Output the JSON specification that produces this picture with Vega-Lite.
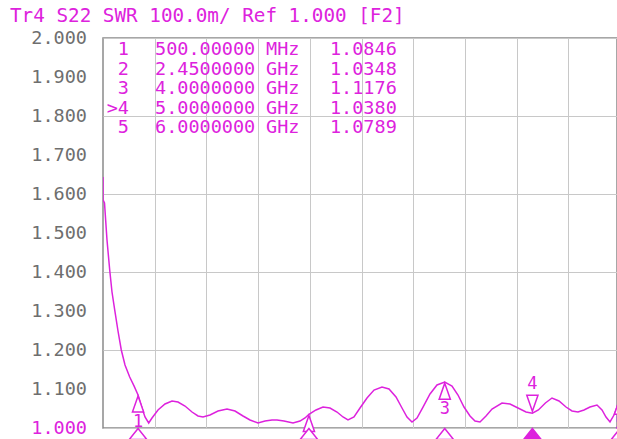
{
  "$schema": "https://vega.github.io/schema/vega-lite/v6.json",
  "width": 514,
  "height": 390,
  "autosize": {"type": "none"},
  "padding": {"left": 103, "top": 38, "right": 0, "bottom": 11},
  "background": "white",
  "config": {
    "view": {"stroke": "#8a8a8a", "strokeWidth": 1.5},
    "font": "DejaVu Sans Mono"
  },
  "title": {
    "text": "Tr4 S22 SWR 100.0m/ Ref 1.000 [F2]",
    "anchor": "start",
    "frame": "group",
    "dx": -93,
    "offset": 3,
    "font": "DejaVu Sans Mono",
    "fontSize": 19.3,
    "fontWeight": "normal",
    "color": "#dd22dd"
  },
  "datasets": {
    "trace": [
      {"f": 0.1, "s": 1.6436}, {"f": 0.1003, "s": 1.585}, {"f": 0.1171, "s": 1.5769},
      {"f": 0.1456, "s": 1.4821}, {"f": 0.1765, "s": 1.4051}, {"f": 0.2027, "s": 1.3487},
      {"f": 0.2335, "s": 1.3026}, {"f": 0.2712, "s": 1.2487}, {"f": 0.3088, "s": 1.2},
      {"f": 0.3511, "s": 1.1615}, {"f": 0.4047, "s": 1.1308}, {"f": 0.4538, "s": 1.108},
      {"f": 0.5, "s": 1.0846}, {"f": 0.545, "s": 1.0513}, {"f": 0.5793, "s": 1.0282},
      {"f": 0.6215, "s": 1.0128}, {"f": 0.6592, "s": 1.0256}, {"f": 0.7276, "s": 1.0462},
      {"f": 0.8075, "s": 1.0615}, {"f": 0.8874, "s": 1.0692}, {"f": 0.9559, "s": 1.0667},
      {"f": 1.0358, "s": 1.0564}, {"f": 1.1157, "s": 1.041}, {"f": 1.1841, "s": 1.0308},
      {"f": 1.2412, "s": 1.0282}, {"f": 1.3211, "s": 1.0333}, {"f": 1.4124, "s": 1.0436},
      {"f": 1.5151, "s": 1.0487}, {"f": 1.6064, "s": 1.0436}, {"f": 1.6977, "s": 1.0308},
      {"f": 1.7776, "s": 1.0205}, {"f": 1.8689, "s": 1.0128}, {"f": 1.9488, "s": 1.0179},
      {"f": 2.0287, "s": 1.0205}, {"f": 2.0857, "s": 1.0205}, {"f": 2.1655, "s": 1.0179},
      {"f": 2.2683, "s": 1.0128}, {"f": 2.3481, "s": 1.0179}, {"f": 2.4052, "s": 1.0256},
      {"f": 2.45, "s": 1.0348}, {"f": 2.5306, "s": 1.0462}, {"f": 2.6105, "s": 1.0538},
      {"f": 2.6904, "s": 1.0513}, {"f": 2.7703, "s": 1.041}, {"f": 2.8388, "s": 1.0282},
      {"f": 2.8958, "s": 1.0205}, {"f": 2.9643, "s": 1.0282}, {"f": 3.0328, "s": 1.0513},
      {"f": 3.1127, "s": 1.0769}, {"f": 3.1926, "s": 1.0974}, {"f": 3.2839, "s": 1.1051},
      {"f": 3.3638, "s": 1.1}, {"f": 3.4437, "s": 1.0795}, {"f": 3.5121, "s": 1.0513},
      {"f": 3.5692, "s": 1.0282}, {"f": 3.6262, "s": 1.0154}, {"f": 3.6833, "s": 1.0256},
      {"f": 3.7518, "s": 1.0538}, {"f": 3.8317, "s": 1.0872}, {"f": 3.9116, "s": 1.1103},
      {"f": 4.0, "s": 1.1176}, {"f": 4.0827, "s": 1.1077}, {"f": 4.1511, "s": 1.0846},
      {"f": 4.2196, "s": 1.0538}, {"f": 4.2881, "s": 1.0308}, {"f": 4.3452, "s": 1.0179},
      {"f": 4.4022, "s": 1.0154}, {"f": 4.4707, "s": 1.0308}, {"f": 4.5392, "s": 1.0487},
      {"f": 4.6533, "s": 1.0641}, {"f": 4.7446, "s": 1.0615}, {"f": 4.8359, "s": 1.0513},
      {"f": 4.9272, "s": 1.041}, {"f": 5.0, "s": 1.038}, {"f": 5.0685, "s": 1.0462},
      {"f": 5.1484, "s": 1.0641}, {"f": 5.2238, "s": 1.0769}, {"f": 5.3037, "s": 1.0692},
      {"f": 5.3836, "s": 1.0538}, {"f": 5.4521, "s": 1.0436}, {"f": 5.5205, "s": 1.041},
      {"f": 5.589, "s": 1.0462}, {"f": 5.6575, "s": 1.0538}, {"f": 5.7374, "s": 1.059},
      {"f": 5.7944, "s": 1.0462}, {"f": 5.8401, "s": 1.0282}, {"f": 5.8857, "s": 1.0154},
      {"f": 5.9314, "s": 1.0333}, {"f": 5.9656, "s": 1.0538}, {"f": 6.0, "s": 1.0789}
    ],
    "markers": [
      {"m": "1", "freq": 0.5, "swr": 1.0846, "dir": "up", "active": false},
      {"m": "2", "freq": 2.45, "swr": 1.0348, "dir": "up", "active": false},
      {"m": "3", "freq": 4.0, "swr": 1.1176, "dir": "up", "active": false},
      {"m": "4", "freq": 5.0, "swr": 1.038, "dir": "down", "active": true},
      {"m": "5", "freq": 6.0, "swr": 1.0789, "dir": "up", "active": false}
    ],
    "yticks": [
      {"v": 1.0}, {"v": 1.1}, {"v": 1.2}, {"v": 1.3}, {"v": 1.4}, {"v": 1.5},
      {"v": 1.6}, {"v": 1.7}, {"v": 1.8}, {"v": 1.9}, {"v": 2.0}
    ],
    "table": [
      {"row": 1, "num": "1", "freq": "500.00000", "unit": "MHz", "val": "1.0846"},
      {"row": 2, "num": "2", "freq": "2.4500000", "unit": "GHz", "val": "1.0348"},
      {"row": 3, "num": "3", "freq": "4.0000000", "unit": "GHz", "val": "1.1176"},
      {"row": 4, "num": ">4", "freq": "5.0000000", "unit": "GHz", "val": "1.0380"},
      {"row": 5, "num": "5", "freq": "6.0000000", "unit": "GHz", "val": "1.0789"}
    ]
  },
  "layer": [
    {
      "layer": [
        {
          "data": {"name": "trace"},
          "mark": {"type": "line", "color": "#dd22dd", "strokeWidth": 1.5, "clip": true},
          "encoding": {
            "x": {
              "field": "f", "type": "quantitative",
              "scale": {"domain": [0.1, 5.9656], "nice": false, "zero": false},
              "axis": {
                "values": [0.69, 1.28, 1.87, 2.46, 3.05, 3.64, 4.23, 4.82, 5.41],
                "labels": false, "ticks": false, "domain": false, "grid": true,
                "gridColor": "#c8c8c8", "gridWidth": 1, "title": null
              }
            },
            "y": {
              "field": "s", "type": "quantitative",
              "scale": {"domain": [1, 2], "nice": false, "zero": false},
              "axis": {
                "values": [1, 1.1, 1.2, 1.3, 1.4, 1.5, 1.6, 1.7, 1.8, 1.9, 2],
                "labels": false,
                "ticks": false, "domain": false, "grid": true,
                "gridColor": "#c8c8c8", "gridWidth": 1, "title": null
              }
            }
          }
        },
        {
          "data": {"name": "yticks"},
          "mark": {"type": "text", "font": "DejaVu Sans Mono", "fontSize": 18.5, "align": "right", "baseline": "middle", "dx": -16},
          "encoding": {
            "x": {"datum": 0.1},
            "y": {"field": "v", "type": "quantitative"},
            "text": {"field": "v", "type": "quantitative", "format": ".3f"},
            "color": {"condition": {"test": "datum.v < 1.001", "value": "#dd22dd"}, "value": "#6e6e6e"}
          }
        },
        {
          "data": {"name": "markers"},
          "transform": [{"filter": "datum.dir == 'up'"}],
          "mark": {"type": "point", "shape": "M0,-1L0.7,1L-0.7,1Z", "size": 256, "filled": true, "fill": "white", "stroke": "#dd22dd", "strokeWidth": 1.5, "opacity": 1, "yOffset": 9},
          "encoding": {
            "x": {"field": "freq", "type": "quantitative"},
            "y": {"field": "swr", "type": "quantitative"}
          }
        },
        {
          "data": {"name": "markers"},
          "transform": [{"filter": "datum.dir == 'down'"}],
          "mark": {"type": "point", "shape": "M0,1L0.7,-1L-0.7,-1Z", "size": 256, "filled": true, "fill": "white", "stroke": "#dd22dd", "strokeWidth": 1.5, "opacity": 1, "yOffset": -10},
          "encoding": {
            "x": {"field": "freq", "type": "quantitative"},
            "y": {"field": "swr", "type": "quantitative"}
          }
        },
        {
          "data": {"name": "markers"},
          "transform": [{"filter": "datum.dir == 'up'"}],
          "mark": {"type": "text", "font": "DejaVu Sans Mono", "fontSize": 17, "color": "#dd22dd", "baseline": "middle", "dy": 27},
          "encoding": {
            "x": {"field": "freq", "type": "quantitative"},
            "y": {"field": "swr", "type": "quantitative"},
            "text": {"field": "m"}
          }
        },
        {
          "data": {"name": "markers"},
          "transform": [{"filter": "datum.dir == 'down'"}],
          "mark": {"type": "text", "font": "DejaVu Sans Mono", "fontSize": 17, "color": "#dd22dd", "baseline": "middle", "dy": -29},
          "encoding": {
            "x": {"field": "freq", "type": "quantitative"},
            "y": {"field": "swr", "type": "quantitative"},
            "text": {"field": "m"}
          }
        },
        {
          "data": {"name": "markers"},
          "mark": {"type": "point", "shape": "M0,-1L1.6,1L-1.6,1Z", "size": 121, "filled": true, "stroke": "#dd22dd", "strokeWidth": 1.5, "opacity": 1, "yOffset": 6},
          "encoding": {
            "x": {"field": "freq", "type": "quantitative"},
            "y": {"datum": 1},
            "fill": {"condition": {"test": "datum.active", "value": "#dd22dd"}, "value": "white"}
          }
        },
        {
          "mark": {"type": "point", "shape": "M-0.6,-1L0.6,0L-0.6,1Z", "size": 289, "filled": true, "color": "#dd22dd", "opacity": 1, "xOffset": -5},
          "encoding": {
            "x": {"datum": 0.1},
            "y": {"datum": 1}
          }
        },
        {
          "mark": {"type": "rule", "color": "#8a8a8a", "strokeWidth": 1.5},
          "encoding": {
            "x": {"datum": -1.018},
            "y": {"datum": 1},
            "y2": {"datum": 1.987}
          }
        },
        {
          "mark": {"type": "point", "shape": "M1,-1L-1,0L1,1Z", "size": 64, "filled": true, "color": "#22cc22", "opacity": 1},
          "encoding": {
            "x": {"datum": -0.984},
            "y": {"datum": 1.497}
          }
        },
        {
          "mark": {"type": "point", "shape": "M0,-1L1,1L-1,1Z", "size": 100, "filled": true, "fill": "white", "stroke": "#22cc22", "strokeWidth": 1.2, "opacity": 1, "yOffset": 7},
          "encoding": {
            "x": {"datum": -1.03},
            "y": {"datum": 1}
          }
        }
      ]
    },
    {
      "data": {"name": "table"},
      "encoding": {
        "y": {"field": "row", "type": "ordinal", "scale": {"type": "point", "domain": [1, 2, 3, 4, 5], "range": [11, 89], "padding": 0}, "axis": null}
      },
      "layer": [
        {
          "mark": {"type": "text", "font": "DejaVu Sans Mono", "fontSize": 18.5, "color": "#dd22dd", "align": "right", "baseline": "middle"},
          "encoding": {"x": {"datum": 0.3967}, "text": {"field": "num"}}
        },
        {
          "mark": {"type": "text", "font": "DejaVu Sans Mono", "fontSize": 18.5, "color": "#dd22dd", "align": "left", "baseline": "middle"},
          "encoding": {"x": {"datum": 0.6934}, "text": {"field": "freq"}}
        },
        {
          "mark": {"type": "text", "font": "DejaVu Sans Mono", "fontSize": 18.5, "color": "#dd22dd", "align": "left", "baseline": "middle"},
          "encoding": {"x": {"datum": 1.96}, "text": {"field": "unit"}}
        },
        {
          "mark": {"type": "text", "font": "DejaVu Sans Mono", "fontSize": 18.5, "color": "#dd22dd", "align": "left", "baseline": "middle"},
          "encoding": {"x": {"datum": 2.69}, "text": {"field": "val"}}
        }
      ]
    }
  ],
  "resolve": {"scale": {"y": "independent"}}
}
